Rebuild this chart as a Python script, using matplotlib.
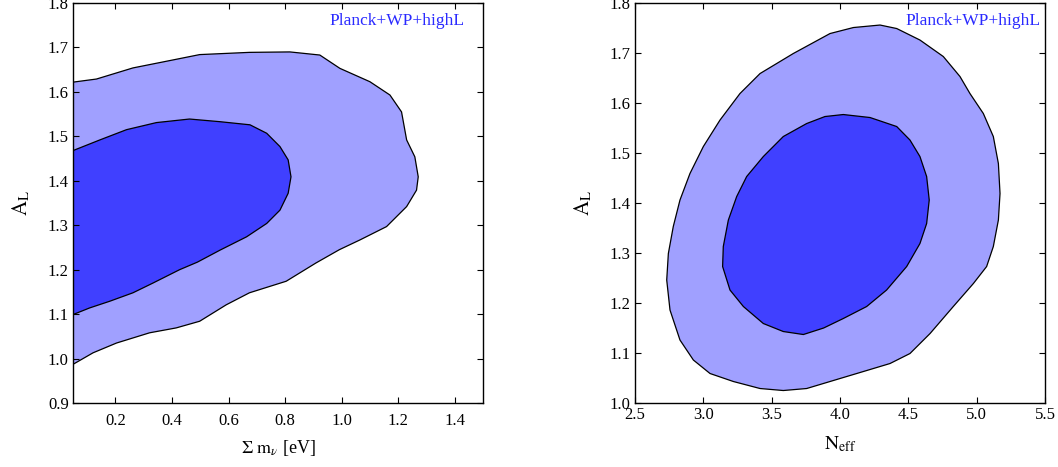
import numpy as np
import matplotlib
matplotlib.use("Agg")
import matplotlib.pyplot as plt

plt.rcParams['font.family'] = ['Liberation Serif', 'DejaVu Serif']
plt.rcParams['mathtext.fontset'] = 'stix'

# left panel: sum m_nu vs A_L, contours
mnu_outer_x = [0.050, 0.133, 0.262, 0.404, 0.498, 0.674, 0.817, 0.923, 0.994, 1.100, 1.171,
               1.212, 1.230, 1.259, 1.271, 1.265, 1.230, 1.159, 1.065, 0.992,
               0.909, 0.804, 0.674, 0.592, 0.498, 0.415, 0.321, 0.204, 0.121, 0.050]
mnu_outer_y = [1.622, 1.629, 1.654, 1.672, 1.684, 1.689, 1.690, 1.683, 1.653, 1.623, 1.593,
               1.555, 1.492, 1.454, 1.409, 1.379, 1.342, 1.297, 1.267, 1.245,
               1.215, 1.174, 1.148, 1.121, 1.084, 1.069, 1.058, 1.035, 1.013, 0.987]
mnu_inner_x = [0.050, 0.145, 0.239, 0.345, 0.462, 0.570, 0.676, 0.735, 0.782, 0.811, 0.821,
               0.811, 0.782, 0.735, 0.664, 0.570, 0.490, 0.427, 0.333, 0.262, 0.180, 0.109,
               0.050]
mnu_inner_y = [1.468, 1.492, 1.515, 1.531, 1.539, 1.533, 1.526, 1.507, 1.477, 1.447, 1.409,
               1.372, 1.334, 1.304, 1.274, 1.244, 1.217, 1.200, 1.170, 1.148, 1.129, 1.114,
               1.099]

# right panel: N_eff vs A_L
neff_outer_x = [4.293, 4.415, 4.585, 4.756, 4.878, 4.951, 5.049, 5.122, 5.159, 5.171, 5.159,
                5.122, 5.073, 4.976, 4.829, 4.659, 4.512, 4.366, 4.171, 4.000, 3.756, 3.585,
                3.415, 3.220, 3.049, 2.927, 2.829, 2.756, 2.732, 2.744, 2.780, 2.829, 2.902,
                3.000, 3.122, 3.268, 3.415, 3.658, 3.927, 4.098]
neff_outer_y = [1.756, 1.749, 1.726, 1.693, 1.653, 1.619, 1.579, 1.533, 1.479, 1.419, 1.366,
                1.313, 1.273, 1.239, 1.193, 1.139, 1.099, 1.079, 1.063, 1.049, 1.029, 1.025,
                1.029, 1.043, 1.059, 1.086, 1.126, 1.186, 1.246, 1.299, 1.353, 1.406, 1.459,
                1.513, 1.566, 1.619, 1.659, 1.699, 1.739, 1.751]
neff_inner_x = [4.024, 4.220, 4.415, 4.512, 4.585, 4.634, 4.653, 4.634, 4.585, 4.488, 4.341,
                4.195, 4.024, 3.880, 3.732, 3.585, 3.439, 3.293, 3.195, 3.141, 3.146, 3.183,
                3.244, 3.317, 3.439, 3.585, 3.756, 3.890]
neff_inner_y = [1.577, 1.571, 1.553, 1.526, 1.493, 1.453, 1.406, 1.359, 1.319, 1.273, 1.226,
                1.193, 1.169, 1.150, 1.137, 1.143, 1.159, 1.193, 1.226, 1.273, 1.313, 1.366,
                1.413, 1.453, 1.493, 1.533, 1.559, 1.573]

light = '#a0a0ff'
dark = '#4040ff'

fig = plt.figure(figsize=(10.58, 4.67), dpi=100)
ax1 = fig.add_axes([0.069, 0.137, 0.3875, 0.8565])
ax2 = fig.add_axes([0.6002, 0.137, 0.3875, 0.8565])


def style(ax):
    ax.tick_params(direction='in', top=True, right=True, length=4, width=0.8,
                   labelsize=12, pad=3)
    for s in ax.spines.values():
        s.set_linewidth(1.0)
    ax.set_ylabel(r'$\mathrm{A}_\mathrm{L}$', fontsize=15, labelpad=11)


# left
ax1.fill(mnu_outer_x, mnu_outer_y, facecolor=light, edgecolor='black', linewidth=0.9)
ax1.fill(mnu_inner_x, mnu_inner_y, facecolor=dark, edgecolor='black', linewidth=0.9)
ax1.set_xlim(0.05, 1.5)
ax1.set_ylim(0.9, 1.8)
ax1.set_xticks([0.2, 0.4, 0.6, 0.8, 1.0, 1.2, 1.4])
ax1.set_yticks(np.arange(0.9, 1.81, 0.1))
ax1.set_yticklabels(['0.9', '1.0', '1.1', '1.2', '1.3', '1.4', '1.5', '1.6', '1.7', '1.8'])
style(ax1)
ax1.tick_params(axis='x', pad=7)
ax1.set_xlabel(r'$\Sigma\ \mathrm{m}_\nu$ [eV]', fontsize=13, labelpad=7)
ax1.text(0.956, 0.955, 'Planck+WP+highL', transform=ax1.transAxes, ha='right', va='center',
         color='#2a2aff', fontsize=12.5)

# right
ax2.fill(neff_outer_x, neff_outer_y, facecolor=light, edgecolor='black', linewidth=0.9)
ax2.fill(neff_inner_x, neff_inner_y, facecolor=dark, edgecolor='black', linewidth=0.9)
ax2.set_xlim(2.5, 5.5)
ax2.set_ylim(1.0, 1.8)
ax2.set_xticks([2.5, 3.0, 3.5, 4.0, 4.5, 5.0, 5.5])
ax2.set_xticklabels(['2.5', '3.0', '3.5', '4.0', '4.5', '5.0', '5.5'])
ax2.set_yticks(np.arange(1.0, 1.81, 0.1))
ax2.set_yticklabels(['1.0', '1.1', '1.2', '1.3', '1.4', '1.5', '1.6', '1.7', '1.8'])
style(ax2)
ax2.tick_params(axis='x', pad=3)
ax2.set_xlabel(r'$\mathrm{N}_\mathrm{eff}$', fontsize=14, labelpad=8)
ax2.text(0.99, 0.955, 'Planck+WP+highL', transform=ax2.transAxes, ha='right', va='center',
         color='#2a2aff', fontsize=12.5)

fig.savefig('out.png', dpi=100)
